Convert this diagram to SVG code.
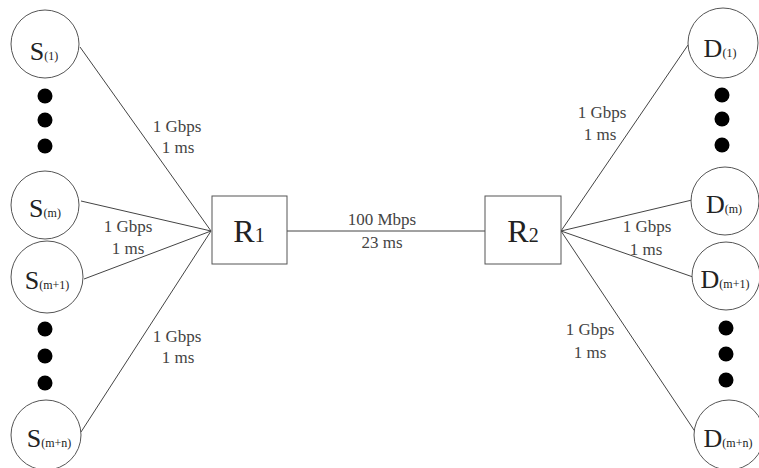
<svg xmlns="http://www.w3.org/2000/svg" width="759" height="468" viewBox="0 0 759 468">
<style>
.n{fill:#fff;stroke:#555;stroke-width:1}
.c{stroke:#444;stroke-width:1;fill:none}
.d{fill:#000}
text{font-family:'Liberation Serif','Times New Roman',serif}
.lbl{font-size:17px;fill:#444;text-anchor:middle}
.nt{font-size:26px;fill:#222;text-anchor:middle}
.sub{font-size:12px}
.rt{font-size:32px;fill:#222;text-anchor:middle}
.rsub{font-size:20px}
</style>
<rect width="759" height="468" fill="#fff"/>
<g id="connectors">
<line class="c" x1="80" y1="47" x2="211" y2="231"/>
<line class="c" x1="81" y1="201" x2="211" y2="231"/>
<line class="c" x1="84" y1="279" x2="211" y2="231"/>
<line class="c" x1="81" y1="432" x2="211" y2="231"/>
<line class="c" x1="287" y1="231" x2="485" y2="231"/>
<line class="c" x1="561" y1="231" x2="688" y2="45"/>
<line class="c" x1="561" y1="231" x2="692" y2="200"/>
<line class="c" x1="561" y1="231" x2="693" y2="277"/>
<line class="c" x1="561" y1="231" x2="696" y2="433"/>
<text class="lbl" x="177" y="132">1 Gbps</text>
<text class="lbl" x="178" y="153">1 ms</text>
<text class="lbl" x="128" y="232">1 Gbps</text>
<text class="lbl" x="128" y="254">1 ms</text>
<text class="lbl" x="177" y="342">1 Gbps</text>
<text class="lbl" x="178" y="363">1 ms</text>
<text class="lbl" x="382" y="225">100 Mbps</text>
<text class="lbl" x="382" y="248">23 ms</text>
<text class="lbl" x="602" y="118">1 Gbps</text>
<text class="lbl" x="600" y="140">1 ms</text>
<text class="lbl" x="647" y="232">1 Gbps</text>
<text class="lbl" x="646" y="255">1 ms</text>
<text class="lbl" x="590" y="335">1 Gbps</text>
<text class="lbl" x="590" y="358">1 ms</text>
</g>
<g id="S1"><circle class="n" cx="45" cy="44" r="34"/><text class="nt" x="44" y="60">S<tspan class="sub">(1)</tspan></text></g>
<g id="dotsS1"><circle class="d" cx="45" cy="96" r="7.5"/><circle class="d" cx="45" cy="120" r="7.5"/><circle class="d" cx="45" cy="146" r="7.5"/></g>
<g id="Sm"><circle class="n" cx="45" cy="205" r="34"/><text class="nt" x="45" y="217">S<tspan class="sub">(m)</tspan></text></g>
<g id="Sm1"><circle class="n" cx="47" cy="277" r="36"/><text class="nt" x="47" y="289">S<tspan class="sub">(m+1)</tspan></text></g>
<g id="dotsS2"><circle class="d" cx="45" cy="329" r="7.5"/><circle class="d" cx="45" cy="356" r="7.5"/><circle class="d" cx="45" cy="383" r="7.5"/></g>
<g id="Smn"><circle class="n" cx="46" cy="435" r="35"/><text class="nt" x="49" y="447">S<tspan class="sub">(m+n)</tspan></text></g>
<g id="R1"><rect class="n" x="212" y="196" width="75" height="68"/><text class="rt" x="249" y="242">R<tspan class="rsub">1</tspan></text></g>
<g id="R2"><rect class="n" x="485" y="196" width="76" height="68"/><text class="rt" x="523" y="242">R<tspan class="rsub">2</tspan></text></g>
<g id="D1"><circle class="n" cx="723" cy="43" r="35"/><text class="nt" x="720" y="57">D<tspan class="sub">(1)</tspan></text></g>
<g id="dotsD1"><circle class="d" cx="722" cy="95" r="7.5"/><circle class="d" cx="722" cy="119" r="7.5"/><circle class="d" cx="722" cy="145" r="7.5"/></g>
<g id="Dm"><circle class="n" cx="725" cy="201" r="34"/><text class="nt" x="724" y="213">D<tspan class="sub">(m)</tspan></text></g>
<g id="Dm1"><circle class="n" cx="726" cy="276" r="34"/><text class="nt" x="725" y="288">D<tspan class="sub">(m+1)</tspan></text></g>
<g id="dotsD2"><circle class="d" cx="726" cy="328" r="7.5"/><circle class="d" cx="726" cy="354" r="7.5"/><circle class="d" cx="726" cy="380" r="7.5"/></g>
<g id="Dmn"><circle class="n" cx="729" cy="435" r="35"/><text class="nt" x="728" y="447">D<tspan class="sub">(m+n)</tspan></text></g>
</svg>
